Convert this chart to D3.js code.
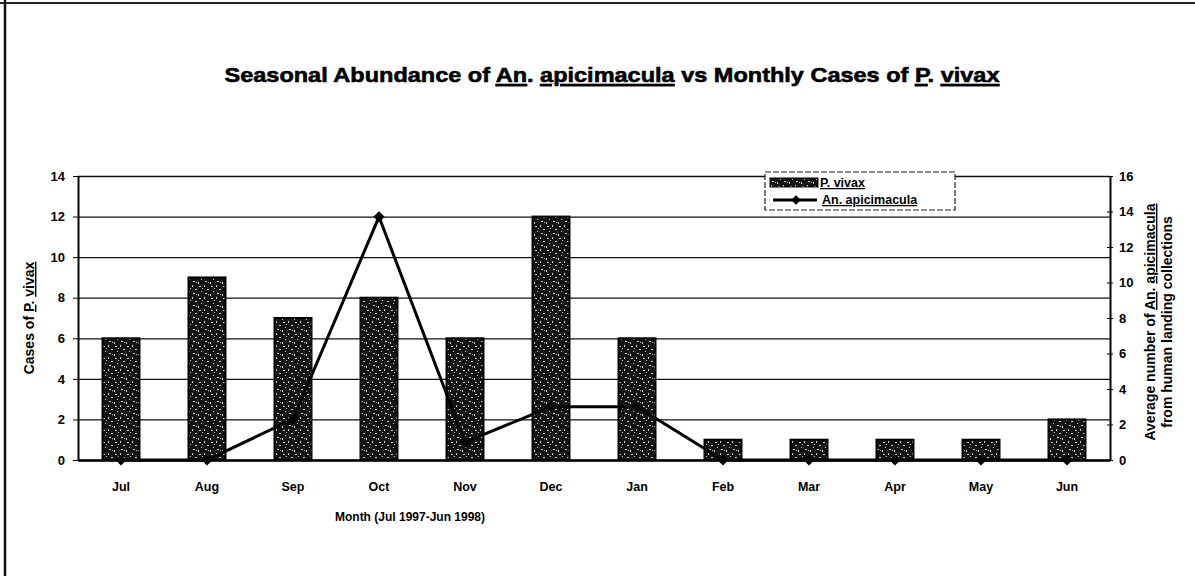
<!DOCTYPE html>
<html lang="en">
<head>
<meta charset="UTF-8">
<title>Seasonal Abundance of An. apicimacula vs Monthly Cases of P. vivax</title>
<script src="https://d3js.org/d3.v7.min.js"></script>
<style>
    body { margin: 0; background: #fff; }
    svg { display: block; font-family: "Liberation Sans", Arial, sans-serif; font-weight: bold; }
    .u { text-decoration: underline; }
</style>
</head>
<body>
<svg id="chart" width="1195" height="576"></svg>
<script>
    const months = ["Jul", "Aug", "Sep", "Oct", "Nov", "Dec", "Jan", "Feb", "Mar", "Apr", "May", "Jun"];
    const vivaxCases = [6, 9, 7, 8, 6, 12, 6, 1, 1, 1, 1, 2];
    const apicimacula = [0, 0, 2.3, 13.7, 1, 3, 3, 0, 0, 0, 0, 0];
    const leftTicks = [0, 2, 4, 6, 8, 10, 12, 14];
    const rightTicks = [0, 2, 4, 6, 8, 10, 12, 14, 16];

    const svg = d3.select("#chart");
    const plot = { left: 78, right: 1110, top: 176, bottom: 460 };
    const plotW = plot.right - plot.left;
    const plotH = plot.bottom - plot.top;

    // speckled bar texture
    const pat = svg.append("defs").append("pattern")
        .attr("id", "speckle")
        .attr("patternUnits", "userSpaceOnUse")
        .attr("width", 12).attr("height", 12);
    pat.append("rect").attr("width", 12).attr("height", 12).attr("fill", "#141414");
    [[1, 2, 2, 1], [6, 1, 1, 2], [9, 5, 2, 1], [3, 7, 1, 1], [7, 9, 2, 1], [0, 10, 1, 2], [4, 4, 1, 1], [10, 10, 1, 1]]
        .forEach(s => pat.append("rect").attr("x", s[0]).attr("y", s[1]).attr("width", s[2]).attr("height", s[3]).attr("fill", "#ccc"));

    // outer frame
    svg.append("line").attr("x1", 0).attr("x2", 1195).attr("y1", 3).attr("y2", 3)
        .attr("stroke", "#222").attr("stroke-width", 2);
    svg.append("line").attr("x1", 5).attr("x2", 5).attr("y1", 0).attr("y2", 576)
        .attr("stroke", "#111").attr("stroke-width", 2.5);

    const g = svg.append("g").attr("transform", `translate(${plot.left},${plot.top})`);

    const x = d3.scaleBand()
        .domain(months)
        .range([0, plotW])
        .paddingInner(0.57)
        .paddingOuter(0.285);

    const yLeft = d3.scaleLinear().domain([0, 14]).range([plotH, 0]);
    const yRight = d3.scaleLinear().domain([0, 16]).range([plotH, 0]);

    // gridlines
    g.append("g")
        .call(d3.axisLeft(yLeft).tickValues(leftTicks).tickSize(-plotW).tickFormat(""))
        .call(a => a.select(".domain").remove())
        .selectAll("line").attr("stroke", "#111").attr("stroke-width", 1.3);

    // left axis
    const la = g.append("g")
        .call(d3.axisLeft(yLeft).tickValues(leftTicks).tickSize(5).tickSizeOuter(0).tickPadding(8));
    la.select(".domain").attr("stroke-width", 2);
    la.selectAll("text").attr("font-size", 13).attr("font-weight", "bold").attr("fill", "#000");

    // right axis
    const ra = g.append("g").attr("transform", `translate(${plotW},0)`)
        .call(d3.axisRight(yRight).tickValues(rightTicks).tickSize(3).tickSizeOuter(0).tickPadding(6));
    ra.select(".domain").attr("stroke-width", 2);
    ra.selectAll(".tick line").attr("x1", -3);
    ra.selectAll("text").attr("font-size", 13).attr("font-weight", "bold").attr("fill", "#000");

    // bottom axis
    const ba = g.append("g").attr("transform", `translate(0,${plotH})`)
        .call(d3.axisBottom(x).tickSize(0).tickPadding(22));
    ba.select(".domain").attr("stroke-width", 2.5);
    ba.selectAll("text").attr("font-size", 12.5).attr("font-weight", "bold").attr("fill", "#000");

    // bars
    g.selectAll("rect.bar")
        .data(vivaxCases)
        .join("rect")
        .attr("class", "bar")
        .attr("x", (d, i) => x(months[i]))
        .attr("y", d => yLeft(d))
        .attr("width", x.bandwidth())
        .attr("height", d => plotH - yLeft(d))
        .attr("fill", "url(#speckle)")
        .attr("stroke", "#000")
        .attr("stroke-width", 2);

    // line
    const cx = i => x(months[i]) + x.bandwidth() / 2;
    g.append("path")
        .datum(apicimacula)
        .attr("d", d3.line().x((d, i) => cx(i)).y(d => yRight(d)))
        .attr("fill", "none")
        .attr("stroke", "#000")
        .attr("stroke-width", 3);

    const diamond = d3.symbol().type(d3.symbolDiamond2).size(80);
    g.selectAll("path.mark")
        .data(apicimacula)
        .join("path")
        .attr("class", "mark")
        .attr("d", diamond)
        .attr("transform", (d, i) => `translate(${cx(i)},${yRight(d)})`)
        .attr("fill", "#000");

    // title
    const title = svg.append("text")
        .attr("x", 612).attr("y", 82)
        .attr("text-anchor", "middle")
        .attr("font-size", 21)
        .attr("stroke", "#000").attr("stroke-width", 0.6)
        .attr("textLength", 775).attr("lengthAdjust", "spacingAndGlyphs");
    title.append("tspan").text("Seasonal Abundance of ");
    title.append("tspan").attr("class", "u").text("An");
    title.append("tspan").text(". ");
    title.append("tspan").attr("class", "u").text("apicimacula");
    title.append("tspan").text(" vs  Monthly Cases of ");
    title.append("tspan").attr("class", "u").text("P");
    title.append("tspan").text(". ");
    title.append("tspan").attr("class", "u").text("vivax");

    // x axis title
    svg.append("text")
        .attr("x", 410).attr("y", 521)
        .attr("text-anchor", "middle")
        .attr("font-size", 12)
        .text("Month (Jul 1997-Jun 1998)");

    // left axis title
    const lt = svg.append("text")
        .attr("transform", `translate(34,${plot.top + plotH / 2}) rotate(-90)`)
        .attr("text-anchor", "middle")
        .attr("font-size", 14);
    lt.append("tspan").text("Cases of ");
    lt.append("tspan").attr("class", "u").text("P");
    lt.append("tspan").text(". ");
    lt.append("tspan").attr("class", "u").text("vivax");

    // right axis title
    const rt = svg.append("text")
        .attr("transform", `translate(1155,${plot.top + plotH / 2 + 4}) rotate(-90)`)
        .attr("text-anchor", "middle")
        .attr("font-size", 14);
    rt.append("tspan").text("Average number of ");
    rt.append("tspan").attr("class", "u").text("An");
    rt.append("tspan").text(". ");
    rt.append("tspan").attr("class", "u").text("apicimacula");
    svg.append("text")
        .attr("transform", `translate(1172,${plot.top + plotH / 2 + 4}) rotate(-90)`)
        .attr("text-anchor", "middle")
        .attr("font-size", 14)
        .text("from human landing collections");

    // legend
    const lg = svg.append("g").attr("transform", "translate(765,172)");
    lg.append("rect").attr("width", 190).attr("height", 38)
        .attr("fill", "#fff").attr("stroke", "#222").attr("stroke-width", 1.2)
        .attr("stroke-dasharray", "6,2");
    lg.append("rect").attr("x", 5).attr("y", 6).attr("width", 48).attr("height", 9)
        .attr("fill", "url(#speckle)").attr("stroke", "#000");
    lg.append("text").attr("x", 55).attr("y", 15).attr("font-size", 12.5)
        .append("tspan").attr("class", "u").text("P. vivax");
    lg.append("line").attr("x1", 8).attr("x2", 52).attr("y1", 28).attr("y2", 28)
        .attr("stroke", "#000").attr("stroke-width", 3);
    lg.append("path").attr("d", d3.symbol().type(d3.symbolDiamond2).size(60))
        .attr("transform", "translate(31,28)").attr("fill", "#000");
    lg.append("text").attr("x", 57).attr("y", 32).attr("font-size", 12.5)
        .append("tspan").attr("class", "u").text("An. apicimacula");
</script>
</body>
</html>
